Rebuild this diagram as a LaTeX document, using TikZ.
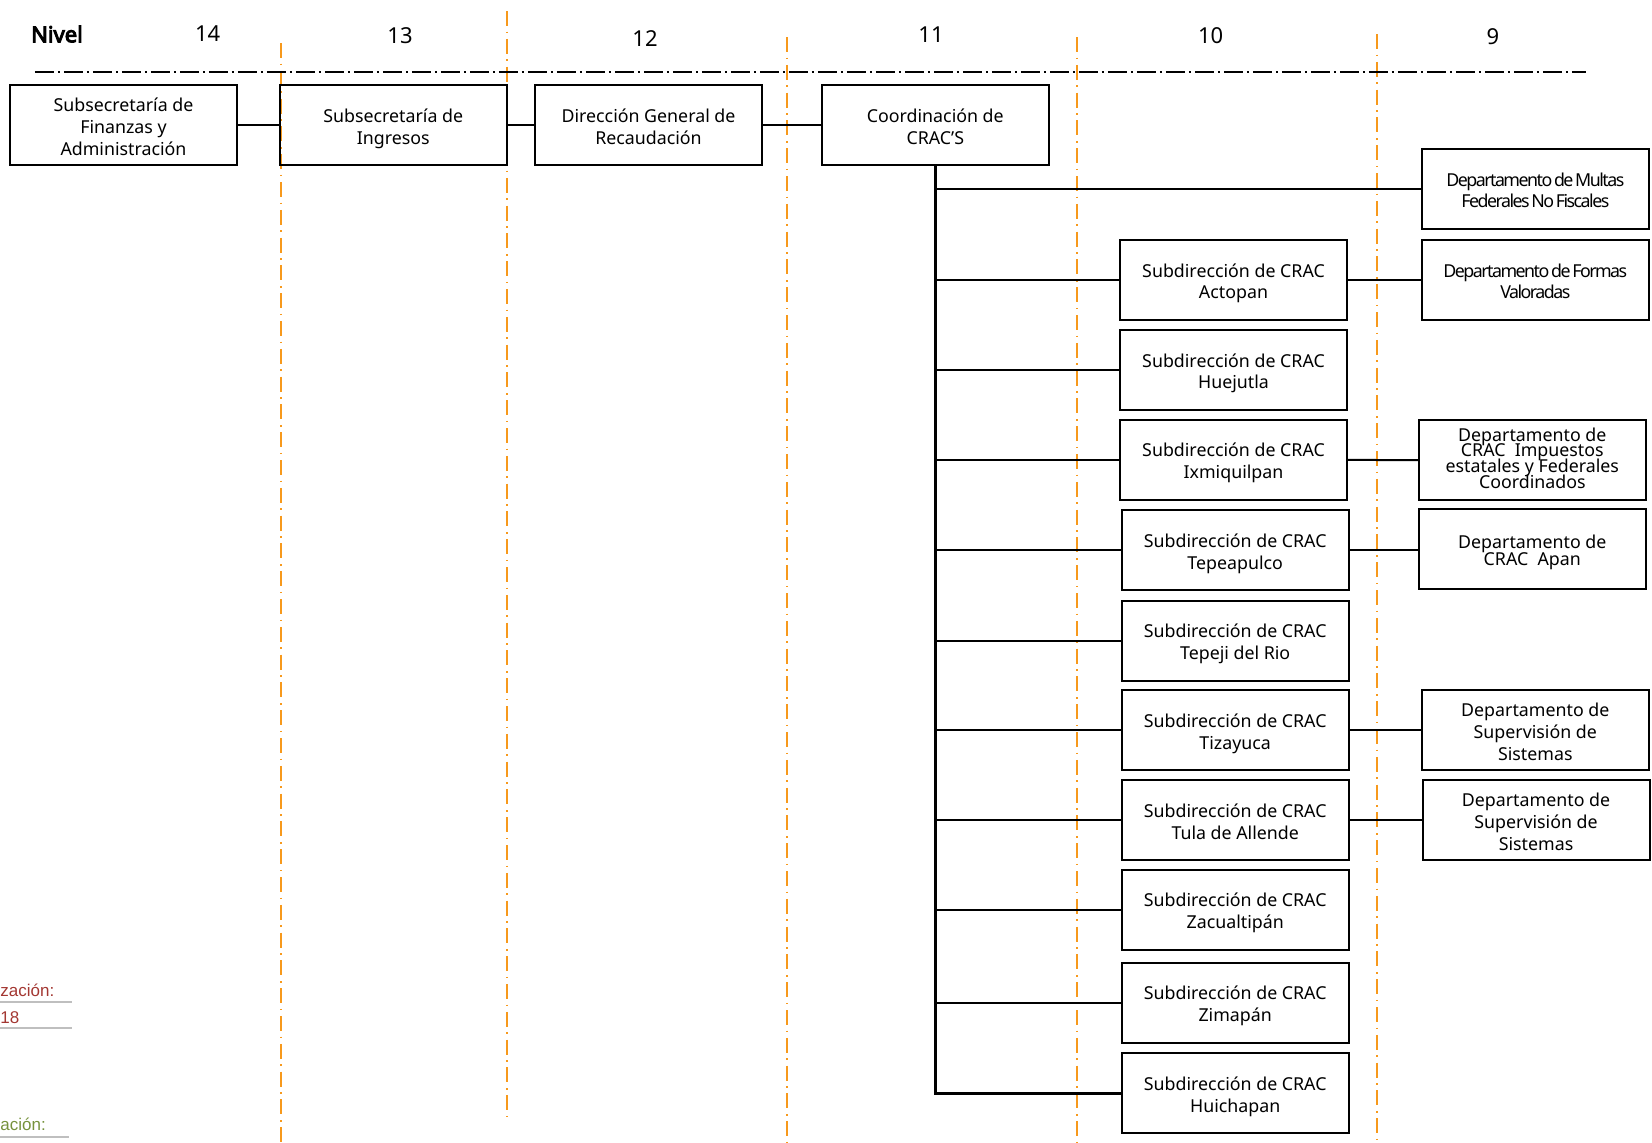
\documentclass[tikz,border=0pt]{standalone}
\usepackage{fontspec}
\setmainfont{Noto Sans}
\newfontfamily\condfont[LetterSpace=-8.5, WordSpace=0.55]{Noto Sans}
\newfontfamily\nivelfont[FakeBold=4.5]{Noto Sans}
\newfontfamily\arialfont{Liberation Sans}
\newcommand\topln{\noindent\vrule height 10.2pt depth 0pt width 0pt}
\definecolor{orgorange}{RGB}{247,153,28}
\definecolor{notered}{RGB}{163,55,50}
\definecolor{notegreen}{RGB}{118,146,60}
\definecolor{noteline}{RGB}{191,191,191}
\tikzset{
  orangeguide/.style={draw=orgorange, line width=1pt, dash pattern=on 7.5pt off 2.8pt on 0.8pt off 2.8pt},
  levelline/.style={draw=black, line width=1pt, dash pattern=on 9.5pt off 2pt on 1pt off 2pt},
  orgbox/.style={draw, line width=1pt, minimum width=113.5pt, minimum height=40pt, inner sep=0pt, align=center,
    font=\fontsize{8.9}{10.9}\selectfont,
    execute at end node={\vrule height 0pt depth 2.3pt width 0pt}},
  condbox/.style={orgbox, font=\condfont\fontsize{8.9}{10.9}\selectfont},
  tightbox/.style={orgbox, font=\fontsize{8.9}{7.9}\selectfont},
  apanbox/.style={orgbox, font=\fontsize{8.9}{8.9}\selectfont},
  leveltxt/.style={inner sep=0pt, font=\fontsize{11}{13}\selectfont},
  link/.style={line width=1pt},
  trunk/.style={line width=1.35pt},
  note/.style={inner sep=0pt, anchor=base west, font=\arialfont\fontsize{8.5}{10}\selectfont},
  noterule/.style={draw=noteline, line width=1.2pt}
}
\begin{document}
\lineskiplimit=-100pt
\begin{tikzpicture}[x=0.5pt, y=-0.5pt]
\useasboundingbox (0,0) rectangle (1652,1142);

% orange level guides
\draw[orangeguide] (281.3,43) -- (281.3,1142);
\draw[orangeguide] (506.7,11) -- (506.7,1117);
\draw[orangeguide] (786.5,37) -- (786.5,1142);
\draw[orangeguide] (1076.8,37) -- (1076.8,1142);
\draw[orangeguide] (1377,34) -- (1377,1142);

% level header
\node[leveltxt, font=\nivelfont\fontsize{11}{13}\selectfont] (nivel) at (57,34) {Nivel};
\node[leveltxt] (l14) at (207.6,34) {14};
\node[leveltxt] (l13) at (400,36) {13};
\node[leveltxt] (l12) at (645,39) {12};
\node[leveltxt] (l11) at (931,35) {11};
\node[leveltxt] (l10) at (1210.6,36) {10};
\node[leveltxt] (l9) at (1493,37) {9};
\draw[levelline] (34.8,71.6) -- (1586,71.6);

% top chain
\node[orgbox] (A) at (123.5,125.3) {\topln Subsecretaría de\\Finanzas y\\Administración};
\node[orgbox] (B) at (393.2,125.3) {\topln Subsecretaría de\\Ingresos};
\node[orgbox] (C) at (648.5,125.3) {\topln Dirección General de\\Recaudación};
\node[orgbox] (D) at (935.3,125.3) {\topln Coordinación de\\CRAC’S};
\draw[link] (A) -- (B);
\draw[link] (B) -- (C);
\draw[link] (C) -- (D);

% subdirecciones
\node[orgbox] (s1) at (1233.5,280) {\topln Subdirección de CRAC\\Actopan};
\node[orgbox] (s2) at (1233.5,370) {\topln Subdirección de CRAC\\Huejutla};
\node[orgbox] (s3) at (1233.5,459.7) {\topln Subdirección de CRAC\\Ixmiquilpan};
\node[orgbox] (s4) at (1235.2,550.3) {\topln Subdirección de CRAC\\Tepeapulco};
\node[orgbox] (s5) at (1235.2,640.5) {\topln Subdirección de CRAC\\Tepeji del Rio};
\node[orgbox] (s6) at (1235.2,730.3) {\topln Subdirección de CRAC\\Tizayuca};
\node[orgbox] (s7) at (1235.2,820.3) {\topln Subdirección de CRAC\\Tula de Allende};
\node[orgbox] (s8) at (1235.2,909.5) {\topln Subdirección de CRAC\\Zacualtipán};
\node[orgbox] (s9) at (1235.2,1002.5) {\topln Subdirección de CRAC\\Zimapán};
\node[orgbox] (s10) at (1235.2,1093.2) {\topln Subdirección de CRAC\\Huichapan};

% departamentos
\node[condbox] (dm) at (1535.3,189) {\topln Departamento de Multas\\Federales No Fiscales};
\node[condbox] (df) at (1535.3,280) {\topln Departamento de Formas\\Valoradas};
\node[tightbox] (di) at (1532.3,460.3) {Departamento de\\CRAC\ \ Impuestos\\estatales y Federales\\Coordinados};
\node[apanbox] (da) at (1532.3,549) {\topln Departamento de\\CRAC\ \ Apan};
\node[orgbox] (dt) at (1535.3,730.3) {\topln Departamento de\\Supervisión de\\Sistemas};
\node[orgbox] (du) at (1536,820.3) {\topln Departamento de\\Supervisión de\\Sistemas};

% trunk and branches
\draw[trunk] (D.south) |- (s10.west);
\draw[link] (D.south |- dm.west) -- (dm.west);
\foreach \s in {s1,s2,s3,s4,s5,s6,s7,s8,s9}
  \draw[link] (D.south |- \s.west) -- (\s.west);
\draw[link] (s1) -- (df);
\draw[link] (s3) -- (di);
\draw[link] (s4) -- (da.west |- s4.east);
\draw[link] (s6) -- (dt);
\draw[link] (s7) -- (du);

% clipped notes at lower left
\node[note, text=notered] (n1) at (0,996.7) {zación:};
\draw[noterule] (0,1002) -- (71.7,1002);
\node[note, text=notered] (n2) at (0,1023) {18};
\draw[noterule] (0,1027.7) -- (71.7,1027.7);
\node[note, text=notegreen] (n3) at (0,1130.7) {ación:};
\draw[noterule] (0,1136.7) -- (68.7,1136.7);
\end{tikzpicture}
\end{document}
